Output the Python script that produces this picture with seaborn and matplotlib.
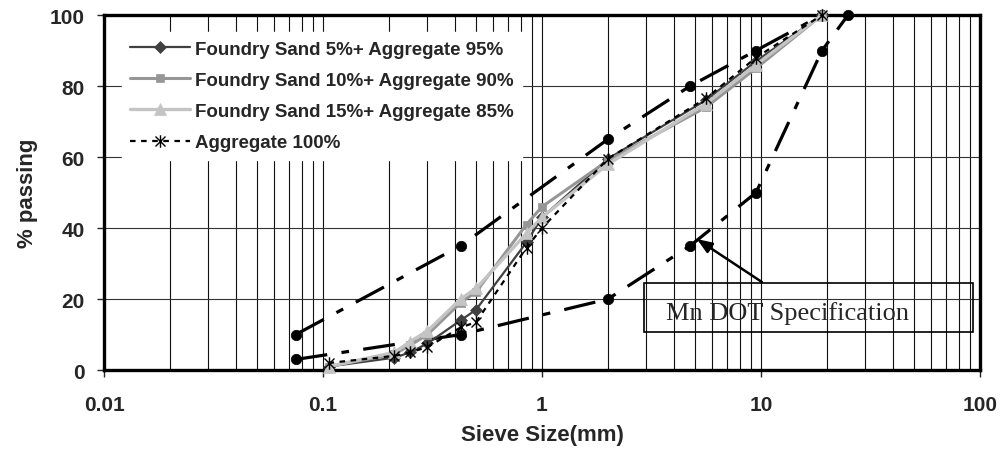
import numpy as np
import pandas as pd
import matplotlib
matplotlib.use("Agg")
import matplotlib.pyplot as plt
from matplotlib.path import Path
from matplotlib.patches import Rectangle
from matplotlib.ticker import LogLocator, NullFormatter, FixedLocator, FixedFormatter
import seaborn as sns

# Sieve sizes (mm) for the blend gradations
sieve_mm = [0.106, 0.212, 0.25, 0.3, 0.425, 0.5, 0.85, 1.0, 2.0, 5.6, 9.5, 19.0]

# Percent passing for each blend
fs5_agg95 = [1.0, 3.5, 5.0, 7.5, 14.0, 17.0, 36.0, 43.0, 59.5, 76.0, 87.0, 100.0]
fs10_agg90 = [1.0, 4.5, 7.0, 10.0, 19.0, 22.0, 41.0, 46.0, 59.0, 74.0, 85.0, 100.0]
fs15_agg85 = [1.0, 5.0, 8.0, 11.0, 20.0, 23.0, 38.5, 43.0, 58.0, 75.0, 86.0, 100.0]
agg100 = [2.0, 4.0, 5.0, 6.5, 12.0, 13.5, 34.5, 40.0, 59.5, 76.5, 88.0, 100.0]

# Mn/DOT specification band
spec_upper_mm = [0.075, 0.425, 2.0, 4.75, 9.5, 19.0]
spec_upper_pct = [10, 35, 65, 80, 90, 100]
spec_lower_mm = [0.075, 0.425, 2.0, 4.75, 9.5, 19.0, 25.0]
spec_lower_pct = [3, 10, 20, 35, 50, 90, 100]

series_labels = [
    "Foundry Sand 5%+ Aggregate 95%",
    "Foundry Sand 10%+ Aggregate 90%",
    "Foundry Sand 15%+ Aggregate 85%",
    "Aggregate 100%",
]
x_ticks = [0.01, 0.1, 1, 10, 100]
x_tick_labels = ["0.01", "0.1", "1", "10", "100"]
y_ticks = [0, 20, 40, 60, 80, 100]

sns.set_style("white")
plt.rcParams["font.family"] = ["Liberation Sans", "DejaVu Sans"]

fig = plt.figure(figsize=(10.03, 4.52), dpi=100)
ax = fig.add_axes([0.1037, 0.179, 0.8733, 0.7856])

# star marker: an X crossed by a vertical stroke
star = Path(
    [(-1, -1), (1, 1), (-1, 1), (1, -1), (0, -1.25), (0, 1.25)],
    [Path.MOVETO, Path.LINETO, Path.MOVETO, Path.LINETO, Path.MOVETO, Path.LINETO],
)

spec_style = dict(color="black", linewidth=2.3, linestyle=(0, (10, 4.5, 2.4, 4.5)),
                  marker="o", markersize=7.5, markeredgecolor="black",
                  markerfacecolor="black", markeredgewidth=0.5, clip_on=False, zorder=3)
sns.lineplot(x=spec_upper_mm, y=spec_upper_pct, ax=ax, sort=False, estimator=None,
             legend=False, **spec_style)
sns.lineplot(x=spec_lower_mm, y=spec_lower_pct, ax=ax, sort=False, estimator=None,
             legend=False, **spec_style)

blends = pd.DataFrame({
    "sieve": sieve_mm,
    series_labels[0]: fs5_agg95,
    series_labels[1]: fs10_agg90,
    series_labels[2]: fs15_agg85,
    series_labels[3]: agg100,
})

styles = [
    dict(color="#404040", linewidth=1.6, marker="D", markersize=6.5,
         markerfacecolor="#404040", markeredgecolor="#404040", markeredgewidth=0.5),
    dict(color="#969696", linewidth=2.2, marker="s", markersize=6,
         markerfacecolor="#969696", markeredgecolor="#969696", markeredgewidth=0.5),
    dict(color="#c4c4c4", linewidth=2.4, marker="^", markersize=8,
         markerfacecolor="#c4c4c4", markeredgecolor="#c4c4c4", markeredgewidth=0.5),
    dict(color="black", linewidth=1.6, linestyle=(0, (2.5, 2.5)), marker=star,
         markersize=9, markerfacecolor="none", markeredgecolor="black",
         markeredgewidth=1.0),
]
for lab, st in zip(series_labels, styles):
    sns.lineplot(data=blends, x="sieve", y=lab, ax=ax, sort=False, estimator=None,
                 legend=False, label=lab, clip_on=False, zorder=4, **st)

ax.set_xscale("log")
ax.set_xlim(0.01, 100)
ax.set_ylim(0, 100)

ax.xaxis.set_major_locator(FixedLocator(x_ticks))
ax.xaxis.set_major_formatter(FixedFormatter(x_tick_labels))
ax.xaxis.set_minor_locator(LogLocator(base=10, subs=np.arange(2, 10)))
ax.xaxis.set_minor_formatter(NullFormatter())
ax.set_yticks(y_ticks)

ax.grid(True, which="both", axis="x", color="#111111", linewidth=0.8)
ax.grid(True, which="major", axis="y", color="#333333", linewidth=0.8)
ax.set_axisbelow(True)

for sp in ax.spines.values():
    sp.set_visible(True)
    sp.set_color("black")
    sp.set_linewidth(2.4)

ax.tick_params(axis="x", which="major", direction="out", length=5, width=1, pad=13,
               labelsize=15, bottom=True)
ax.tick_params(axis="x", which="minor", length=0)
ax.tick_params(axis="y", direction="out", length=5, width=1, pad=9, labelsize=15, left=True)
for t in ax.get_xticklabels() + ax.get_yticklabels():
    t.set_fontweight("bold")

ax.set_xlabel("Sieve Size(mm)", fontsize=16, fontweight="bold", labelpad=7)
ax.set_ylabel("% passing", fontsize=16, fontweight="bold", labelpad=8)

leg = ax.legend(loc="upper left", bbox_to_anchor=(0.0205, 0.952), borderaxespad=0,
                frameon=True, fancybox=False, framealpha=1, edgecolor="white",
                facecolor="white", prop={"family": "Liberation Sans", "weight": "bold", "size": 13.5},
                handlelength=3.2, handletextpad=0.25, labelspacing=0.75, borderpad=0.45)
leg.set_zorder(6)

# Specification call-out
ax.add_patch(Rectangle((0.616, 0.107), 0.376, 0.138, transform=ax.transAxes,
                       fill=False, edgecolor="black", linewidth=1.2, zorder=5))
ax.text(0.6416, 0.144, "Mn DOT Specification", transform=ax.transAxes,
        family=["Liberation Serif", "DejaVu Serif"], fontsize=19, ha="left",
        va="baseline", zorder=6)
ax.annotate("", xy=(5.1, 36.9), xytext=(10.1, 24.8), xycoords="data",
            arrowprops=dict(arrowstyle="-|>,head_length=0.9,head_width=0.35",
                            color="black", linewidth=1.8, shrinkA=0, shrinkB=0),
            zorder=6)

fig.savefig("out.png", dpi=100)
